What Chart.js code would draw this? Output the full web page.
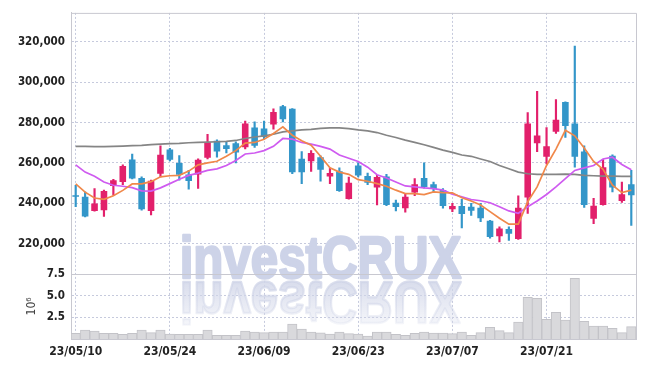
<!DOCTYPE html>
<html>
<head>
<meta charset="utf-8">
<script src="https://cdn.jsdelivr.net/npm/chart.js@4"></script>
<style>
  html, body { margin: 0; padding: 0; background: #fff; }
</style>
</head>
<body>
<canvas id="chart1" width="645" height="366"></canvas>
<script>
const dates = ["23/05/10","23/05/11","23/05/12","23/05/15","23/05/16","23/05/17","23/05/18","23/05/19","23/05/22","23/05/23",
  "23/05/24","23/05/25","23/05/26","23/05/30","23/05/31","23/06/01","23/06/02","23/06/05","23/06/07","23/06/08",
  "23/06/09","23/06/12","23/06/13","23/06/14","23/06/15","23/06/16","23/06/19","23/06/20","23/06/21","23/06/22",
  "23/06/23","23/06/26","23/06/27","23/06/28","23/06/29","23/06/30","23/07/03","23/07/04","23/07/05","23/07/06",
  "23/07/07","23/07/10","23/07/11","23/07/12","23/07/13","23/07/14","23/07/17","23/07/18","23/07/19","23/07/20",
  "23/07/21","23/07/24","23/07/25","23/07/26","23/07/27","23/07/28","23/07/31","23/08/01","23/08/02","23/08/03"];

const open = [243500,243200,236200,236500,248600,250500,261700,252500,236200,254600,
  266600,260000,254300,254300,262500,271000,268800,269800,267700,277500,
  277000,279100,288100,286800,262000,260800,262800,253300,255800,242100,
  258700,253500,247800,253300,240200,237500,245300,252500,249400,246500,
  237000,238600,238300,237800,231300,223600,227200,222300,242800,269800,
  263100,275400,290200,279500,265700,232300,239100,263600,241100,249400];

const high = [248900,245600,247300,246500,251900,259000,264400,253100,251500,268500,
  267200,263600,256300,262000,274200,271500,270200,270500,280800,280400,
  280800,286800,288500,287000,265600,266100,263500,257400,257500,253000,
  260000,255000,253800,254300,241500,244500,252200,260000,250500,247300,
  240000,241900,240000,239900,231500,228300,228300,243700,284900,295500,
  277500,291400,290300,318000,268500,242400,261700,264000,250500,256300];

const low = [238300,233200,236000,233400,244000,249200,252000,236500,234200,253000,
  261000,251400,247000,247300,262000,262800,264900,260000,266900,267700,
  271800,276700,280300,254600,249700,255800,250900,249700,245800,242000,
  253000,249200,239100,238800,236200,235500,243700,247500,245300,237500,
  235800,227700,233900,230900,222700,220800,221600,222000,235000,265600,
  259500,274600,272600,257900,237900,229800,239000,245600,240400,229000];

const close = [243200,233400,239800,246100,251400,258400,252200,237000,251200,264100,
  261500,254100,251000,261500,270200,265700,266900,265200,279500,268500,
  272900,285300,281600,255400,255400,264900,256600,255000,246000,250100,
  253800,250200,253000,239100,238100,243200,249400,248100,247000,238600,
  238600,234700,236300,232600,223200,227400,224900,237800,279500,273600,
  268200,281400,278300,263100,239100,238800,257900,247800,244500,244000];

// volume in millions
const volume = [0.66,1.04,0.92,0.66,0.66,0.54,0.66,1.04,0.73,1.04,
  0.58,0.54,0.54,0.54,1.04,0.42,0.42,0.42,0.92,0.81,
  0.73,0.81,0.81,1.73,1.15,0.81,0.7,0.58,0.81,0.62,
  0.58,0.35,0.81,0.81,0.54,0.42,0.66,0.81,0.69,0.69,
  0.62,0.81,0.42,0.73,1.35,0.96,0.73,1.96,4.80,4.69,
  2.27,3.07,2.19,6.99,2.04,1.50,1.50,1.23,0.73,1.42];

const ma5 = [249560,245490,242600,241960,243680,246370,249560,249560,250690,253090,
  253630,253820,255930,259020,260000,260830,263280,266080,269800,270150,
  271760,274560,277840,273720,270980,268820,263280,257550,255440,254310,
  251670,250880,249710,248430,246470,244800,244800,244310,245640,245290,
  245150,242700,241080,239120,235830,232550,229610,229610,240740,248090,
  258730,266860,276180,273430,267350,260690,256760,248920,245290,246470];

const ma20 = [259020,255440,253330,250540,248920,248430,247740,246130,245980,247600,
  249710,251860,253820,254950,256270,257060,258730,261180,264410,264900,
  266080,268190,272110,271760,270150,269310,268190,266860,263920,262300,
  260690,257890,254120,252500,250540,248580,248090,247600,247250,246470,
  244510,243180,241860,241220,240240,238280,236180,235000,238280,241080,
  244310,248090,252160,256270,257550,258730,261960,262800,259210,256570];

const ma60 = [268190,268190,268040,268040,268190,268330,268530,268680,269020,269310,
  269510,269660,270000,270150,270290,270490,270640,271130,272110,272840,
  273430,274210,275390,275880,276370,276670,277160,277350,277350,277010,
  276370,275880,275050,273720,272600,271270,270150,269020,267700,266370,
  265240,263920,263280,261960,260690,258730,257060,255440,254610,254310,
  254310,254310,254460,254310,253820,253630,253480,253480,253330,253330];

const priceTicks = [220000, 240000, 260000, 280000, 300000, 320000];
const volumeTicks = [2.5, 5.0, 7.5];

const UP = '#e2206b', DOWN = '#3396c9';
const GRID = '#c6cadd';
const AXIS = '#c8c8d0';
const FONT = '"DejaVu Sans Condensed", "DejaVu Sans", sans-serif';
const colors = open.map((o, i) => close[i] >= o ? UP : DOWN);

// watermark, its reflection and the frame lines
const decor = {
  id: 'decor',
  beforeDatasetsDraw(chart) {
    const {ctx, chartArea: a, scales} = chart;
    const base = scales.yv.top + 4;
    const cx = chart.width / 2 - 2;
    const sx = 0.82;
    ctx.save();
    ctx.font = 'bold 60px "Liberation Sans", Arial, sans-serif';
    ctx.textAlign = 'center';
    ctx.textBaseline = 'alphabetic';
    ctx.lineJoin = 'round';
    ctx.save();
    ctx.translate(cx, 0);
    ctx.scale(sx, 1);
    ctx.fillStyle = 'rgb(205,211,232)';
    ctx.strokeStyle = 'rgb(205,211,232)';
    ctx.lineWidth = 2.5;
    ctx.fillText('investCRUX', 0, base);
    ctx.strokeText('investCRUX', 0, base);
    ctx.restore();
    // reflection
    ctx.beginPath();
    ctx.rect(a.left, base + 2, a.right - a.left, 46);
    ctx.clip();
    ctx.translate(cx, 2 * base + 4);
    ctx.scale(sx, -1);
    const g = ctx.createLinearGradient(0, base, 0, base - 44);
    g.addColorStop(0, 'rgba(208,213,232,0.8)');
    g.addColorStop(1, 'rgba(208,213,232,0.2)');
    ctx.fillStyle = g;
    ctx.strokeStyle = g;
    ctx.lineWidth = 2.5;
    ctx.fillText('investCRUX', 0, base);
    ctx.strokeText('investCRUX', 0, base);
    ctx.restore();
  },
  afterDraw(chart) {
    const {ctx, chartArea: a, scales} = chart;
    ctx.save();
    ctx.strokeStyle = AXIS;
    ctx.lineWidth = 1;
    ctx.beginPath();
    ctx.moveTo(a.left, a.top + 0.5);
    ctx.lineTo(a.right + 0.5, a.top + 0.5);
    ctx.lineTo(a.right + 0.5, a.bottom);
    ctx.moveTo(a.left, Math.round(scales.yv.top) + 0.5);
    ctx.lineTo(a.right, Math.round(scales.yv.top) + 0.5);
    ctx.stroke();
    ctx.restore();
  }
};

new Chart(document.getElementById('chart1'), {
  type: 'bar',
  data: {
    labels: dates,
    datasets: [{
        type: 'line',
        label: 'MA5',
        data: ma5,
        borderColor: '#f0884a',
        borderWidth: 1.7,
        pointRadius: 0,
        yAxisID: 'y',
        order: 0
      }, {
        type: 'line',
        label: 'MA20',
        data: ma20,
        borderColor: '#cf5bf0',
        borderWidth: 1.7,
        pointRadius: 0,
        yAxisID: 'y',
        order: 0
      }, {
        type: 'line',
        label: 'MA60',
        data: ma60,
        borderColor: '#858585',
        borderWidth: 1.7,
        pointRadius: 0,
        yAxisID: 'y',
        order: 0
      }, {
        label: 'body',
        data: open.map((o, i) => [Math.min(o, close[i]), Math.max(o, close[i])]),
        backgroundColor: colors,
        barPercentage: 0.7,
        categoryPercentage: 1,
        grouped: false,
        minBarLength: 1.5,
        yAxisID: 'y',
        order: 1
      }, {
        label: 'wick',
        data: low.map((l, i) => [l, high[i]]),
        backgroundColor: colors,
        barThickness: 1.5,
        grouped: false,
        yAxisID: 'y',
        order: 2
      }, {
        label: 'volume',
        data: volume,
        backgroundColor: '#d9d9dc',
        borderColor: '#c3c3c8',
        borderWidth: 1,
        barPercentage: 1,
        categoryPercentage: 1,
        grouped: false,
        yAxisID: 'yv',
        order: 3
      }
    ]
  },
  options: {
    responsive: false,
    animation: false,
    layout: { padding: { top: 9, right: 9, left: 0, bottom: 0 } },
    plugins: { legend: { display: false }, tooltip: { enabled: false } },
    scales: {
      x: {
        offset: true,
        grid: {
          offset: false,
          drawTicks: false,
          color: c => c.index % 10 === 0 ? GRID : 'rgba(0,0,0,0)'
        },
        border: { color: AXIS, dash: [2, 2] },
        ticks: {
          autoSkip: false,
          maxRotation: 0,
          padding: 6,
          color: '#222',
          font: { family: FONT, weight: 'bold', size: 12 },
          callback: function(v, i) { return i % 10 === 0 ? this.getLabelForValue(v) : ''; }
        },
        afterFit: s => { s.height = 27; }
      },
      yv: {
        position: 'left',
        stack: 'p',
        stackWeight: 1,
        min: 0,
        max: 7.5,
        afterBuildTicks: s => { s.ticks = volumeTicks.map(v => ({ value: v })); },
        grid: { drawTicks: false, color: c => (c.tick && c.tick.value < 7.5) ? GRID : 'rgba(0,0,0,0)' },
        border: { color: AXIS, dash: [2, 2] },
        ticks: {
          autoSkip: false,
          padding: 6,
          color: '#222',
          font: { family: FONT, weight: 'bold', size: 11.5 },
          callback: v => v.toFixed(1)
        },
        title: {
          display: true,
          text: '10⁶',
          color: '#444',
          padding: { top: 25 },
          font: { family: FONT, size: 12 }
        },
        afterFit: s => { s.width = 71; }
      },
      y: {
        position: 'left',
        stack: 'p',
        stackWeight: 4,
        min: 205000,
        max: 334400,
        afterBuildTicks: s => { s.ticks = priceTicks.map(v => ({ value: v })); },
        grid: { drawTicks: false, color: GRID },
        border: { color: AXIS, dash: [2, 2] },
        ticks: {
          autoSkip: false,
          padding: 6,
          color: '#222',
          font: { family: FONT, weight: 'bold', size: 11.5 },
          callback: v => v.toLocaleString('en-US')
        },
        afterFit: s => { s.width = 71; }
      }
    }
  },
  plugins: [decor]
});
</script>
</body>
</html>
